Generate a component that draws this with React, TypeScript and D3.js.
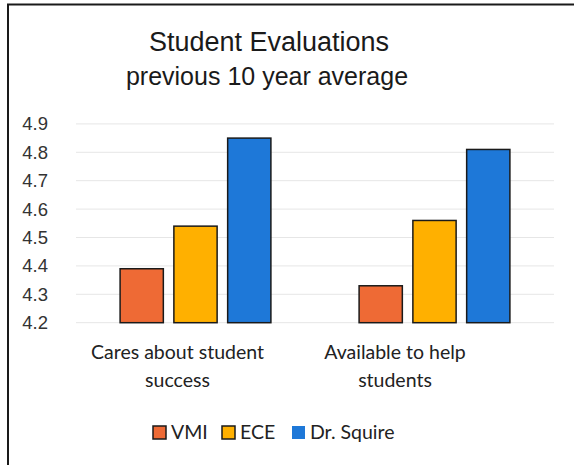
import React from "react";
import * as d3 from "d3";

const categories = ["Cares about student success", "Available to help students"];
const categoryLines = [["Cares about student", "success"], ["Available to help", "students"]];
const series = ["VMI", "ECE", "Dr. Squire"];
const vmiValues = [4.39, 4.33];
const eceValues = [4.54, 4.56];
const squireValues = [4.85, 4.81];
const yTicks = [4.2, 4.3, 4.4, 4.5, 4.6, 4.7, 4.8, 4.9];
const colors = ["#EE6A35", "#FFB000", "#1E78D8"];

const W = 574;
const H = 465;

export default function App() {
  const valuesBySeries = [vmiValues, eceValues, squireValues];
  const plotLeft = 76;
  const plotRight = 554;
  const x0 = d3.scaleBand<string>().domain(categories).range([plotLeft, plotRight]).paddingInner(0).paddingOuter(0);
  const x1 = d3
    .scaleBand<string>()
    .domain(series)
    .range([0, x0.bandwidth()])
    .paddingInner(0.196)
    .paddingOuter(0.82);
  const y = d3.scaleLinear().domain([4.2, 4.9]).range([322.7, 123.9]);
  const labelX = d3.scalePoint<string>().domain(categories).range([177.5, 395]);
  const fmt = d3.format(".1f");

  const legendX = [153, 222, 292];
  const sans = "'Liberation Sans', Arial, sans-serif";
  const cal = "Lato, 'Open Sans', sans-serif";

  return (
    <svg
      width={W}
      height={H}
      style={{ position: "absolute", left: 0, top: 0, background: "#fff" }}
    >
      <rect x={0} y={0} width={W} height={H} fill="#fff" />
      {/* border (left and top visible) */}
      <line x1={8} x2={8} y1={4} y2={H} stroke="#1a1a1a" strokeWidth={2} />
      <line x1={7} x2={W} y1={4.5} y2={4.5} stroke="#1a1a1a" strokeWidth={2} />

      {/* title */}
      <text x={269} y={51} textAnchor="middle" fontFamily={sans} fontSize={27} fill="#1a1a1a">
        Student Evaluations
      </text>
      <text x={267} y={85} textAnchor="middle" fontFamily={sans} fontSize={25} fill="#1a1a1a">
        previous 10 year average
      </text>

      {/* gridlines */}
      {yTicks.map((t) => (
        <line key={t} x1={plotLeft} x2={plotRight} y1={y(t)} y2={y(t)} stroke="#e6e6e6" strokeWidth={1} />
      ))}

      {/* y tick labels */}
      {yTicks.map((t) => (
        <text
          key={"l" + t}
          x={48}
          y={y(t)}
          dy="0.35em"
          textAnchor="end"
          fontFamily={sans}
          fontSize={18.5}
          fill="#333"
        >
          {fmt(t)}
        </text>
      ))}

      {/* bars */}
      {categories.map((c, ci) => (
        <g key={c} transform={`translate(${x0(c)},0)`}>
          {series.map((s, si) => {
            const v = valuesBySeries[si][ci];
            return (
              <rect
                key={s}
                x={x1(s)}
                y={y(v)}
                width={x1.bandwidth()}
                height={y(4.2) - y(v)}
                fill={colors[si]}
                stroke="#1a1a1a"
                strokeWidth={1.5}
              />
            );
          })}
        </g>
      ))}

      {/* category labels */}
      {categories.map((c, ci) => (
        <text key={"c" + c} textAnchor="middle" fontFamily={cal} fontSize={19.5} fill="#222">
          {categoryLines[ci].map((ln, li) => (
            <tspan key={li} x={labelX(c)} y={359 + li * 28}>
              {ln}
            </tspan>
          ))}
        </text>
      ))}

      {/* legend */}
      {series.map((s, si) => (
        <g key={"lg" + s}>
          <rect
            x={legendX[si]}
            y={426}
            width={13}
            height={13}
            fill={colors[si]}
            stroke={si < 2 ? "#1a1a1a" : "none"}
            strokeWidth={1.5}
          />
          <text x={legendX[si] + 18} y={439} fontFamily={cal} fontSize={19.5} fill="#222">
            {s}
          </text>
        </g>
      ))}
    </svg>
  );
}
